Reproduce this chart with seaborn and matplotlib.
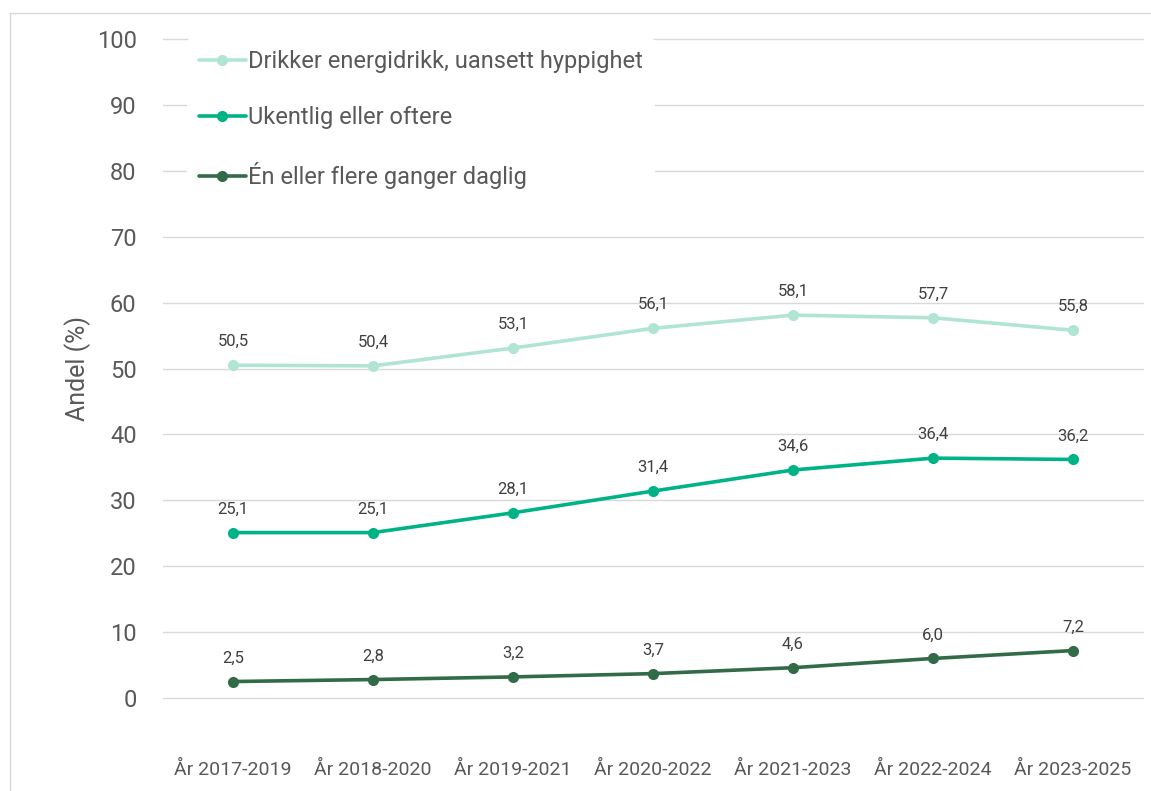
import pandas as pd
import seaborn as sns
import matplotlib.pyplot as plt
from matplotlib.lines import Line2D

# Data
periods = ["År 2017-2019", "År 2018-2020", "År 2019-2021", "År 2020-2022",
           "År 2021-2023", "År 2022-2024", "År 2023-2025"]
series_names = ["Drikker energidrikk, uansett hyppighet",
                "Ukentlig eller oftere",
                "Én eller flere ganger daglig"]
any_freq = [50.5, 50.4, 53.1, 56.1, 58.1, 57.7, 55.8]
weekly = [25.1, 25.1, 28.1, 31.4, 34.6, 36.4, 36.2]
daily = [2.5, 2.8, 3.2, 3.7, 4.6, 6.0, 7.2]
colors = ["#b1e5d3", "#00b386", "#326b48"]

df = pd.DataFrame({
    "Periode": periods * 3,
    "Andel": any_freq + weekly + daily,
    "Serie": [series_names[0]] * 7 + [series_names[1]] * 7 + [series_names[2]] * 7,
})

sns.set_style("white")
plt.rcParams["font.family"] = ["Roboto", "DejaVu Sans"]

fig = plt.figure(figsize=(11.51, 7.91), dpi=100)
ax = fig.add_axes([163 / 1151, 1 - 698 / 791, 980 / 1151, 659 / 791])

sns.lineplot(data=df, x="Periode", y="Andel", hue="Serie", hue_order=series_names,
             palette=colors, marker="o", markersize=8, markeredgewidth=0,
             linewidth=2.6, sort=False, ax=ax)

# value labels
for vals in [any_freq, weekly, daily]:
    for i, v in enumerate(vals):
        ax.annotate(f"{v:.1f}".replace(".", ","), (i, v), xytext=(0, 17),
                    textcoords="offset points", ha="center", va="center",
                    fontsize=12, color="#404040")

ax.set_xlim(-0.5, 6.5)
ax.set_ylim(0, 100)
ax.set_yticks(range(0, 101, 10))
ax.grid(axis="y", color="#d9d9d9", linewidth=1)
ax.grid(axis="x", visible=False)
for gl in ax.get_ygridlines():
    gl.set_clip_on(False)
for s in ax.spines.values():
    s.set_visible(False)
ax.tick_params(axis="y", length=0, pad=19, labelsize=17, labelcolor="#595959")
ax.tick_params(axis="x", length=0, pad=45, labelsize=14, labelcolor="#595959")
ax.set_xlabel("")
ax.set_ylabel("Andel (%)", fontsize=18, color="#595959", labelpad=4)

leg = ax.legend(loc="upper left", bbox_to_anchor=(187 / 1151, 1 - 38 / 791),
                bbox_transform=fig.transFigure, frameon=True, facecolor="white",
                edgecolor="none", framealpha=1, fontsize=17, labelspacing=1.4,
                handlelength=2.0, handletextpad=0.1, borderpad=0.5,
                borderaxespad=0)
for t in leg.get_texts():
    t.set_color("#595959")

# light border of the chart area (top and left)
fig.add_artist(Line2D([10 / 1151, 1], [1 - 13 / 791] * 2, transform=fig.transFigure,
                      color="#d9d9d9", linewidth=1))
fig.add_artist(Line2D([10 / 1151] * 2, [0, 1 - 13 / 791], transform=fig.transFigure,
                      color="#d9d9d9", linewidth=1))

fig.savefig("out.png", dpi=100)
